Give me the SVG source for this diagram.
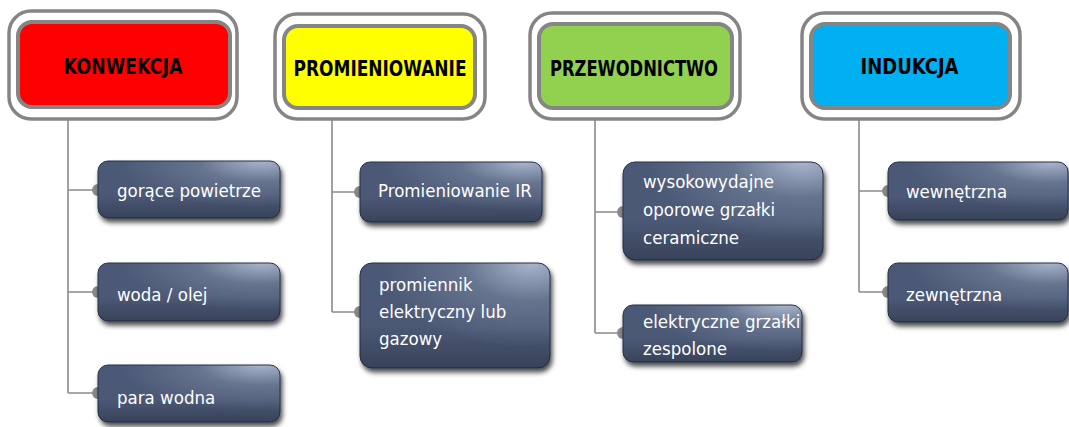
<svg xmlns="http://www.w3.org/2000/svg" width="1069" height="427" viewBox="0 0 1069 427">
<defs>
<style>
.hout{fill:#ffffff;stroke:#858585;stroke-width:3.5}
.hin{stroke:#858585;stroke-width:4}
.ht{font-family:"DejaVu Sans Condensed","DejaVu Sans",sans-serif;font-weight:bold;font-size:21.5px;fill:#000;text-anchor:middle}
.sub{fill:url(#g1);stroke:#263049;stroke-width:1;filter:url(#sh)}
.subhl{fill:url(#g2);pointer-events:none}
.st{font-family:"DejaVu Sans Condensed","DejaVu Sans",sans-serif;font-size:18.5px;fill:#ffffff}
.ln{stroke:#8a8a8a;stroke-width:1.6;fill:none}
.dot{fill:#8a8a8a}
</style>
<radialGradient id="g1" cx="0.88" cy="0.05" r="0.75" fx="0.9" fy="0.0">
<stop offset="0" stop-color="#aab5cc"/>
<stop offset="0.45" stop-color="#66748f"/>
<stop offset="1" stop-color="#4c5976"/>
</radialGradient>
<linearGradient id="g2" x1="0" y1="0" x2="0" y2="1">
<stop offset="0" stop-color="#000" stop-opacity="0"/>
<stop offset="0.6" stop-color="#000" stop-opacity="0"/>
<stop offset="1" stop-color="#000" stop-opacity="0.25"/>
</linearGradient>
<filter id="sh" x="-10%" y="-20%" width="125%" height="150%">
<feDropShadow dx="2" dy="4" stdDeviation="2.5" flood-color="#000" flood-opacity="0.7"/>
</filter>
</defs>

<g id="connectors">
<path class="ln" d="M68 120 V393 M68 190 H98 M68 292 H98 M68 393 H98"/>
<path class="ln" d="M332 120 V312 M332 192 H360 M332 312 H360"/>
<path class="ln" d="M595 120 V333 M595 212 H623 M595 333 H623"/>
<path class="ln" d="M859 120 V292 M859 191 H888 M859 292 H888"/>
<circle class="dot" cx="98" cy="190" r="6"/>
<circle class="dot" cx="98" cy="292" r="6"/>
<circle class="dot" cx="98" cy="393" r="6"/>
<circle class="dot" cx="360" cy="192" r="6"/>
<circle class="dot" cx="360" cy="312" r="6"/>
<circle class="dot" cx="623" cy="212" r="6"/>
<circle class="dot" cx="623" cy="333" r="6"/>
<circle class="dot" cx="888" cy="191" r="6"/>
<circle class="dot" cx="888" cy="292" r="6"/>
</g>

<g id="h-konwekcja">
<rect class="hout" x="9" y="11" width="228" height="108" rx="22"/>
<rect class="hin" x="18" y="22" width="212" height="85" rx="14" fill="#ff0000"/>
<text class="ht" x="123" y="74" textLength="119" lengthAdjust="spacingAndGlyphs">KONWEKCJA</text>
</g>
<g id="h-promieniowanie">
<rect class="hout" x="275" y="14" width="210" height="105" rx="22"/>
<rect class="hin" x="284" y="26" width="191" height="82" rx="14" fill="#ffff00"/>
<text class="ht" x="380" y="76" textLength="173" lengthAdjust="spacingAndGlyphs">PROMIENIOWANIE</text>
</g>
<g id="h-przewodnictwo">
<rect class="hout" x="530" y="13" width="210" height="106" rx="22"/>
<rect class="hin" x="539" y="24" width="193" height="84" rx="14" fill="#92d050"/>
<text class="ht" x="634" y="76" textLength="168" lengthAdjust="spacingAndGlyphs">PRZEWODNICTWO</text>
</g>
<g id="h-indukcja">
<rect class="hout" x="802" y="13" width="218" height="106" rx="22"/>
<rect class="hin" x="811" y="24" width="199" height="84" rx="14" fill="#00b0f0"/>
<text class="ht" x="909.5" y="74" textLength="98" lengthAdjust="spacingAndGlyphs">INDUKCJA</text>
</g>

<g id="n-gorace">
<rect class="sub" x="98" y="161" width="182" height="57" rx="10"/>
<rect class="subhl" x="98" y="161" width="182" height="57" rx="10"/>
<text class="st" x="117" y="197">gorące powietrze</text>
</g>
<g id="n-woda">
<rect class="sub" x="98" y="263" width="182" height="58" rx="10"/>
<rect class="subhl" x="98" y="263" width="182" height="58" rx="10"/>
<text class="st" x="117" y="301">woda / olej</text>
</g>
<g id="n-para">
<rect class="sub" x="98" y="365" width="182" height="57" rx="10"/>
<rect class="subhl" x="98" y="365" width="182" height="57" rx="10"/>
<text class="st" x="117" y="404">para wodna</text>
</g>

<g id="n-ir">
<rect class="sub" x="360" y="162" width="182" height="60" rx="10"/>
<rect class="subhl" x="360" y="162" width="182" height="60" rx="10"/>
<text class="st" x="378" y="197">Promieniowanie IR</text>
</g>
<g id="n-promiennik">
<rect class="sub" x="360" y="263" width="190" height="105" rx="12"/>
<rect class="subhl" x="360" y="263" width="190" height="105" rx="12"/>
<text class="st" x="379" y="291">promiennik</text>
<text class="st" x="379" y="318">elektryczny lub</text>
<text class="st" x="379" y="345">gazowy</text>
</g>

<g id="n-wysoko">
<rect class="sub" x="623" y="162" width="200" height="98" rx="12"/>
<rect class="subhl" x="623" y="162" width="200" height="98" rx="12"/>
<text class="st" x="643" y="188">wysokowydajne</text>
<text class="st" x="643" y="216">oporowe grzałki</text>
<text class="st" x="643" y="244">ceramiczne</text>
</g>
<g id="n-zespolone">
<rect class="sub" x="623" y="305" width="179" height="57" rx="10"/>
<rect class="subhl" x="623" y="305" width="179" height="57" rx="10"/>
<text class="st" x="643" y="328">elektryczne grzałki</text>
<text class="st" x="643" y="355">zespolone</text>
</g>

<g id="n-wew">
<rect class="sub" x="888" y="162" width="180" height="58" rx="10"/>
<rect class="subhl" x="888" y="162" width="180" height="58" rx="10"/>
<text class="st" x="906" y="198">wewnętrzna</text>
</g>
<g id="n-zew">
<rect class="sub" x="888" y="263" width="180" height="59" rx="10"/>
<rect class="subhl" x="888" y="263" width="180" height="59" rx="10"/>
<text class="st" x="906" y="301">zewnętrzna</text>
</g>
</svg>
